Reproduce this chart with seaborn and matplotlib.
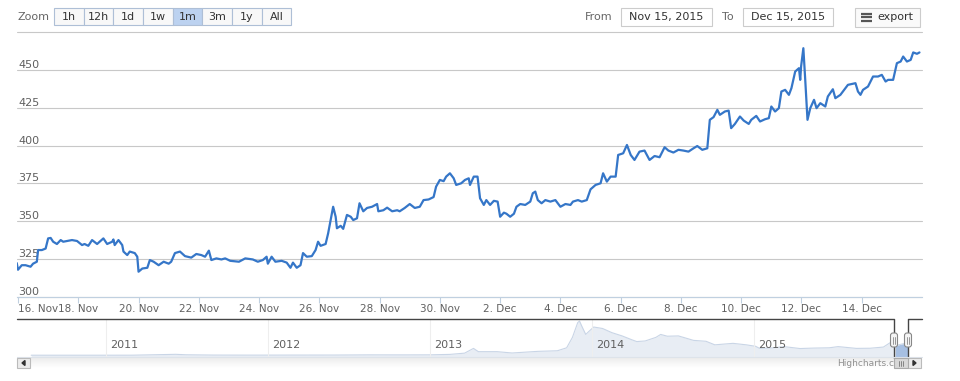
import numpy as np
import pandas as pd
import seaborn as sns
import matplotlib.pyplot as plt
from matplotlib.patches import Rectangle, FancyBboxPatch, Polygon
from matplotlib.transforms import ScaledTranslation

# dados -------------------------------------------------------------------
# preço (USD), horas contadas a partir de 16 Nov 2015 00:00
horas = [-1, 0, 3, 6, 10, 12, 15, 16, 19, 22, 24, 26, 28, 31, 34, 36, 39, 43, 47, 51,
         53, 56, 59, 63, 68, 71, 75, 76, 77, 80, 83, 84, 87, 89, 93, 95, 96, 99, 103, 105,
         108, 112, 116, 120, 122, 125, 129, 133, 138, 142, 146, 149, 152, 154, 158, 162, 165, 169, 176, 181,
         187, 191, 195, 198, 199, 202, 205, 210, 214, 217, 219, 222, 225, 227, 230, 234, 237, 239, 241, 245,
         247, 249, 251, 253, 254, 257, 259, 262, 265, 267, 270, 272, 275, 278, 282, 286, 287, 291, 294, 298,
         302, 304, 308, 312, 316, 320, 323, 327, 331, 333, 336, 339, 341, 344, 347, 349, 353, 356, 359, 360,
         363, 366, 368, 371, 373, 376, 379, 382, 384, 387, 389, 392, 395, 397, 400, 404, 408, 410, 412, 414,
         417, 420, 424, 428, 432, 436, 440, 442, 446, 449, 453, 456, 460, 464, 466, 469, 472, 476, 478, 482,
         485, 488, 491, 495, 499, 503, 507, 511, 515, 518, 522, 526, 530, 534, 538, 541, 545, 549, 551, 554,
         557, 559, 563, 566, 568, 571, 575, 578, 582, 584, 588, 591, 595, 598, 600, 603, 606, 608, 611, 614,
         616, 619, 622, 623, 623.7, 625.5, 627, 628.8, 631, 634, 636, 639, 643, 645, 649, 651, 655, 657, 661, 667,
         669, 671, 673, 677, 681, 685, 688, 691, 693, 697, 700, 703, 705, 708, 711, 713, 716, 718]
precos = [322.4, 318, 321, 321, 320, 322, 323.3, 331, 331, 332, 338.7, 339, 336.5, 335, 337.6, 336.5, 337, 337.6, 337, 334.3,
          335, 333.8, 337.6, 335, 338.7, 335, 336.5, 338, 334.3, 337.6, 334.3, 330, 327.7, 330, 329, 326.6, 316.7, 318.8, 319.3, 324.4,
          323.3, 321, 323.3, 322, 323.3, 329, 330, 327, 326, 328.4, 327.7, 326.6, 330.6, 324.4, 325.5, 324.8, 325.5, 323.9, 323.3, 325.5,
          324.8, 323.3, 324.4, 326.6, 322, 326.6, 323.3, 323.9, 322.7, 319.3, 322.7, 319.3, 321, 329, 326.6, 327, 331, 336.5, 333.8, 335,
          342, 350.8, 359.6, 353, 345.4, 347, 345, 354.2, 353, 350.8, 352, 361.9, 356.6, 358.8, 359.6, 361.4, 356.6, 357.3, 359, 356.6,
          357.3, 356.6, 358.8, 361.4, 358.8, 359.6, 364, 364.4, 366, 372.9, 377.3, 376.5, 379.5, 381.7, 378.4, 374, 375.1, 377.3, 378.4, 374,
          379.5, 379.5, 365.2, 360.8, 364, 360.8, 363.5, 363, 353, 355.7, 355, 353, 355, 359.6, 361.4, 360.8, 363, 368.5, 369.6, 364,
          361.9, 364, 363, 364, 359.6, 361.4, 360.8, 363, 364, 363, 364, 371.1, 374, 375.1, 381.7, 376.2, 379.5, 379.5, 393.8, 394.9,
          400.4, 393.8, 390.5, 396, 396.7, 390.5, 393.1, 392.3, 398.9, 396.7, 395.4, 397.2, 396.7, 396, 398.2, 399.7, 397.2, 398.2, 417, 418.8,
          423.6, 420.3, 422.5, 423.1, 411.5, 414.3, 419.2, 416.5, 414.3, 417, 419.6, 415.9, 417.4, 418.1, 425.8, 422.5, 424.7, 435.7, 436.8, 433.5,
          437.9, 448.9, 451.1, 443.4, 452.2, 464.3, 443.4, 417, 424.7, 430.2, 424.7, 428, 425.8, 432.4, 437.2, 431.3, 433.5, 435.7, 440.1, 441.2,
          435.7, 433.5, 436.8, 439, 445.6, 445.6, 446.7, 442.3, 443.4, 443.4, 454.4, 455.5, 458.8, 455.5, 456.6, 461.5, 460.6, 461.5]

tick_datas = ['2015-11-16', '2015-11-18', '2015-11-20', '2015-11-22', '2015-11-24', '2015-11-26', '2015-11-28',
              '2015-11-30', '2015-12-02', '2015-12-04', '2015-12-06', '2015-12-08', '2015-12-10', '2015-12-12', '2015-12-14']
tick_labels = ['16. Nov', '18. Nov', '20. Nov', '22. Nov', '24. Nov', '26. Nov', '28. Nov',
               '30. Nov', '2. Dec', '4. Dec', '6. Dec', '8. Dec', '10. Dec', '12. Dec', '14. Dec']
y_ticks = [300, 325, 350, 375, 400, 425, 450, 475]
y_labels = ['300', '325', '350', '375', '400', '425', '450', '']

# série do navegador (histórico completo)
nav_datas = ['2010-07-17', '2010-10-01', '2011-01-01', '2011-03-01', '2011-06-08', '2011-07-01', '2011-09-01', '2011-12-01',
             '2012-03-01', '2012-06-01', '2012-08-15', '2012-11-01', '2013-01-01', '2013-02-15', '2013-03-20', '2013-04-09',
             '2013-04-20', '2013-06-01', '2013-07-05', '2013-09-01', '2013-10-15', '2013-11-05', '2013-11-18', '2013-11-30',
             '2013-12-04', '2013-12-10', '2013-12-18', '2013-12-25', '2014-01-05', '2014-01-25', '2014-02-15', '2014-03-10',
             '2014-04-01', '2014-04-12', '2014-05-01', '2014-05-25', '2014-06-05', '2014-06-20', '2014-07-15', '2014-08-18',
             '2014-09-15', '2014-10-05', '2014-11-15', '2014-12-15', '2015-01-05', '2015-01-14', '2015-02-15', '2015-03-10',
             '2015-04-15', '2015-05-15', '2015-06-20', '2015-07-10', '2015-08-20', '2015-09-20', '2015-10-20', '2015-11-04',
             '2015-11-12', '2015-11-16', '2015-11-30', '2015-12-07', '2015-12-12', '2015-12-15']
nav_valores = [0, 0, 0.3, 1, 30, 15, 5, 3,
               5, 6, 12, 11, 13, 28, 70, 230,
               120, 120, 75, 130, 150, 250, 600, 1100,
               1150, 950, 700, 800, 950, 900, 760, 650,
               520, 460, 480, 600, 700, 640, 650, 500,
               470, 350, 400, 350, 300, 230, 250, 290,
               225, 240, 250, 290, 230, 235, 275, 420,
               330, 320, 375, 395, 450, 460]
nav_anos = ['2011-01-01', '2012-01-01', '2013-01-01', '2014-01-01', '2015-01-01']
nav_labels = ['2011', '2012', '2013', '2014', '2015']

botoes = ['1h', '12h', '1d', '1w', '1m', '3m', '1y', 'All']
botao_ativo = '1m'
data_de = 'Nov 15, 2015'
data_ate = 'Dec 15, 2015'

# gráfico ------------------------------------------------------------------
sns.set_style('white')
plt.rcParams['font.family'] = ['DejaVu Sans']

W, H = 960, 381
fig = plt.figure(figsize=(W / 100, H / 100), dpi=100)

def caixa(x0, y0, x1, y1):
    return [x0 / W, 1 - y1 / H, (x1 - x0) / W, (y1 - y0) / H]

inicio = pd.Timestamp('2015-11-16')
df = pd.DataFrame({'data': inicio + pd.to_timedelta(horas, unit='h'), 'preco': precos})

ax = fig.add_axes(caixa(17, 32, 922, 297))
sns.lineplot(data=df, x='data', y='preco', ax=ax, color='#3576c8', lw=1.6)
ax.set_xlim(inicio - pd.Timedelta(hours=0.8), pd.Timestamp('2015-12-16'))
ax.set_ylim(300, 475)
ax.set_xlabel('')
ax.set_ylabel('')
ax.set_yticks(y_ticks)
ax.set_yticklabels(y_labels)
ax.grid(axis='y', color='#c8c8c8', lw=0.8)
ax.grid(axis='x', visible=False)
for gl in ax.get_ygridlines():
    gl.set_clip_on(False)
ax.tick_params(axis='y', length=0, pad=-1, labelsize=8, labelcolor='#606060')
for lab in ax.get_yticklabels():
    lab.set_ha('left')
    lab.set_va('bottom')
ax.set_xticks(pd.to_datetime(tick_datas))
ax.set_xticklabels(tick_labels)
ax.tick_params(axis='x', length=4, color='#c0d0e0', labelsize=7.5, labelcolor='#606060', pad=1, bottom=True)
ax.get_xticklabels()[0].set_ha('left')
for s in ['top', 'left', 'right']:
    ax.spines[s].set_visible(False)
ax.spines['bottom'].set_color('#c0d0e0')

# navegador
nav = pd.DataFrame({'data': pd.to_datetime(nav_datas), 'valor': nav_valores})
nax = fig.add_axes(caixa(17, 319, 922, 357))
nax.fill_between(nav['data'], nav['valor'], -60, color='#e8edf4', lw=0)
sns.lineplot(data=nav, x='data', y='valor', ax=nax, color='#c9d5e6', lw=0.8)
sel = nav[nav['data'] >= pd.Timestamp('2015-11-15')]
nax.fill_between(sel['data'], sel['valor'], -60, color='#a6bfe2', lw=0)
nax.set_xlim(pd.Timestamp('2010-06-15'), pd.Timestamp('2016-01-15'))
nax.set_ylim(-60, 1220)
nax.set_xlabel('')
nax.set_ylabel('')
nax.set_yticks([])
nax.set_xticks(pd.to_datetime(nav_anos))
nax.set_xticklabels(nav_labels)
nax.set_axisbelow(False)
nax.grid(axis='x', color='#eeeeee', lw=0.8)
nax.tick_params(axis='x', length=0, pad=-12, labelsize=8, labelcolor='#606060')
for lab in nax.get_xticklabels():
    lab.set_ha('left')
    lab.set_transform(lab.get_transform() + ScaledTranslation(4 / 100, 0, fig.dpi_scale_trans))
for s in nax.spines.values():
    s.set_visible(False)

# camada de interface (pixels)
ui = fig.add_axes([0, 0, 1, 1], facecolor='none')
ui.set_xlim(0, W)
ui.set_ylim(H, 0)
ui.axis('off')

ui.text(18, 17, 'Zoom', fontsize=8, color='#666666', va='center', ha='left')
bordas = [54, 84, 113, 143, 173, 202, 232, 262, 291]
for i, b in enumerate(botoes):
    cor = '#bcd2f0' if b == botao_ativo else '#f8f8f8'
    ui.add_patch(Rectangle((bordas[i], 8), bordas[i + 1] - bordas[i], 17, facecolor=cor,
                           edgecolor='#aebfd6', lw=0.8))
    ui.text((bordas[i] + bordas[i + 1]) / 2, 16.5, b, fontsize=8, color='#333333', ha='center', va='center')

ui.text(585, 17, 'From', fontsize=8, color='#666666', va='center', ha='left')
ui.add_patch(Rectangle((621, 8), 91, 18, facecolor='white', edgecolor='#cccccc', lw=0.8))
ui.text(666, 17, data_de, fontsize=8, color='#333333', va='center', ha='center')
ui.text(722, 17, 'To', fontsize=8, color='#666666', va='center', ha='left')
ui.add_patch(Rectangle((743, 8), 90, 18, facecolor='white', edgecolor='#cccccc', lw=0.8))
ui.text(788, 17, data_ate, fontsize=8, color='#333333', va='center', ha='center')
ui.add_patch(Rectangle((855, 8), 65, 19, facecolor='#fafafa', edgecolor='#cccccc', lw=0.8))
for yy in [13.5, 17, 20.5]:
    ui.plot([861, 872], [yy, yy], color='#555555', lw=1.6, solid_capstyle='butt')
ui.text(877, 17, 'export', fontsize=8, color='#333333', va='center', ha='left')

# contorno do navegador
ui.plot([17, 894, 894, 908, 908, 922], [319, 319, 358, 358, 319, 319], color='#444444', lw=1)

# barra de rolagem
grad = np.linspace(0.92, 1.0, 20).reshape(-1, 1)
ui.imshow(grad, extent=(17, 922, 368, 357), cmap='gray', vmin=0, vmax=1, aspect='auto', zorder=1)
ui.set_xlim(0, W)
ui.set_ylim(H, 0)
ui.plot([17, 922], [357, 357], color='#dde3ea', lw=0.8, zorder=2)
ui.text(908, 363.5, 'Highcharts.com', fontsize=6.5, color='#909090', ha='right', va='center', zorder=3)
for x0 in [17, 908]:
    ui.add_patch(Rectangle((x0, 358), 13, 10, facecolor='#ececec', edgecolor='#bbbbbb', lw=0.8, zorder=4))
ui.add_patch(Polygon([[25, 360.5], [25, 365.5], [22, 363]], closed=True, color='#333333', zorder=5))
ui.add_patch(Polygon([[913, 360.5], [913, 365.5], [916, 363]], closed=True, color='#333333', zorder=5))
ui.add_patch(Rectangle((894, 358), 14, 10, facecolor='#d8d8d8', edgecolor='#aaaaaa', lw=0.8, zorder=4))
for xx in [899, 901, 903]:
    ui.plot([xx, xx], [360.5, 365.5], color='#777777', lw=0.6, zorder=5)

# alças da seleção
for xc in [894, 908]:
    ui.add_patch(FancyBboxPatch((xc - 3.5, 333), 7, 14, boxstyle='round,pad=0,rounding_size=2.5',
                                facecolor='#f4f4f4', edgecolor='#888888', lw=0.8, zorder=6))
    ui.plot([xc - 1, xc - 1], [336.5, 343.5], color='#888888', lw=0.6, zorder=7)
    ui.plot([xc + 1, xc + 1], [336.5, 343.5], color='#888888', lw=0.6, zorder=7)

fig.savefig('out.png', dpi=100)
